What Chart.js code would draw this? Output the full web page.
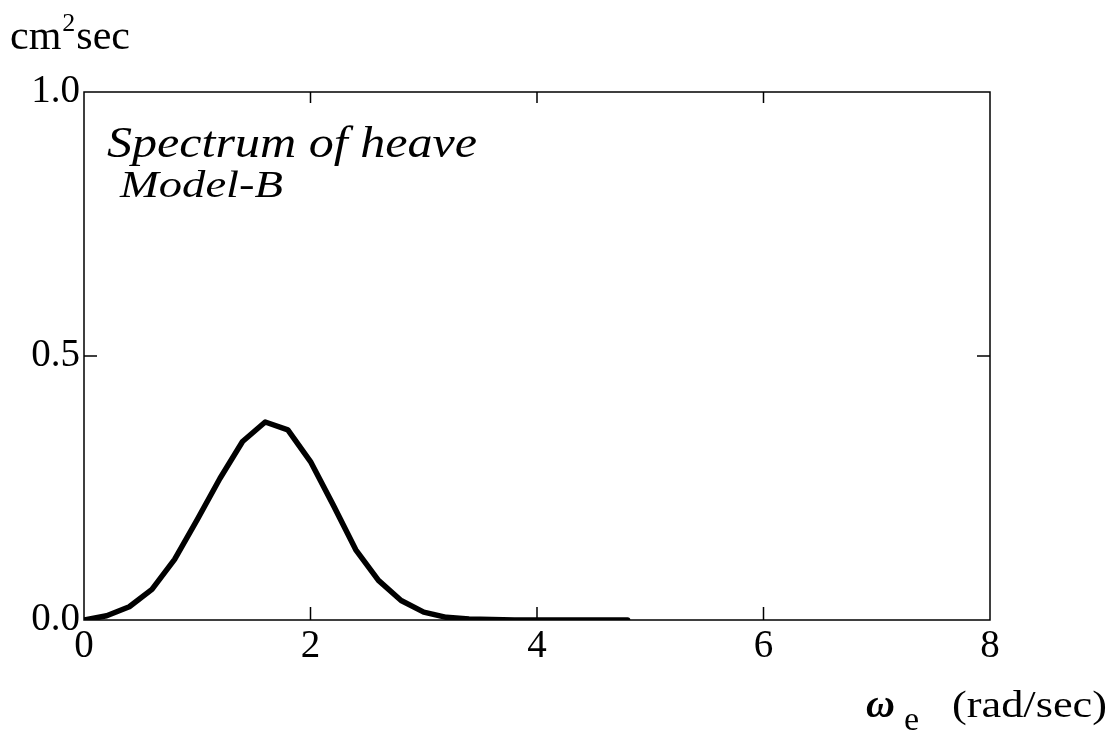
<!DOCTYPE html>
<html>
<head>
<meta charset="utf-8">
<script src="https://cdn.jsdelivr.net/npm/chart.js@4/dist/chart.umd.min.js"></script>
<style>
  html, body { margin: 0; padding: 0; background: #fff; }
  #wrap { width: 1116px; height: 746px; }
</style>
</head>
<body>
<div id="wrap"><canvas id="heaveChart" width="1116" height="746"></canvas></div>
<script>
// encounter frequency (rad/sec) and heave spectrum (cm^2 sec)
const omega = [0, 0.2, 0.4, 0.6, 0.8, 1.0, 1.2, 1.4, 1.6, 1.8, 2.0, 2.2, 2.4,
               2.6, 2.8, 3.0, 3.2, 3.4, 3.6, 3.8, 4.0, 4.2, 4.4, 4.6, 4.8];
const heave = [0, 0.008, 0.025, 0.058, 0.115, 0.19, 0.268, 0.338, 0.375, 0.36, 0.30, 0.218, 0.133,
               0.075, 0.037, 0.015, 0.005, 0.002, 0.001, 0, 0, 0, 0, 0, 0];
const xTicks = [0, 2, 4, 6, 8];
const yTicks = [0, 0.5, 1.0];

const SERIF = '"Liberation Serif", "Times New Roman", serif';

function fitText(ctx, text, x, y, width) {
    const w = ctx.measureText(text).width;
    ctx.save();
    ctx.translate(x, y);
    ctx.scale(width / w, 1);
    ctx.fillText(text, 0, 0);
    ctx.restore();
}

// box around the plot plus inward tick marks
const framePlugin = {
    id: 'frame',
    beforeDatasetsDraw(chart) {
        const { ctx, chartArea: a, scales } = chart;
        ctx.save();
        ctx.strokeStyle = '#000';
        ctx.lineWidth = 1.5;
        ctx.strokeRect(a.left, a.top, a.right - a.left, a.bottom - a.top);
        ctx.beginPath();
        xTicks.slice(1, -1).forEach(v => {
            const px = scales.x.getPixelForValue(v);
            ctx.moveTo(px, a.bottom);
            ctx.lineTo(px, a.bottom - 13);
            ctx.moveTo(px, a.top);
            ctx.lineTo(px, a.top + 11);
        });
        yTicks.slice(1, -1).forEach(v => {
            const py = scales.y.getPixelForValue(v);
            ctx.moveTo(a.left, py);
            ctx.lineTo(a.left + 13, py);
            ctx.moveTo(a.right, py);
            ctx.lineTo(a.right - 13, py);
        });
        ctx.stroke();
        ctx.restore();
    },
    afterDraw(chart) {
        const ctx = chart.ctx;
        ctx.save();
        ctx.fillStyle = '#000';
        ctx.textBaseline = 'alphabetic';
        ctx.textAlign = 'left';

        // unit of the spectrum
        ctx.font = '42px ' + SERIF;
        ctx.fillText('cm', 10, 49);
        const cmW = ctx.measureText('cm').width;
        ctx.font = '26px ' + SERIF;
        ctx.fillText('2', 10 + cmW + 1, 31);
        ctx.font = '42px ' + SERIF;
        ctx.fillText('sec', 10 + cmW + 15, 49);

        // caption inside the plot
        ctx.font = 'italic 44px ' + SERIF;
        fitText(ctx, 'Spectrum of heave', 107, 157, 370);
        ctx.font = 'italic 38px ' + SERIF;
        fitText(ctx, 'Model-B', 120, 197, 163);

        // x axis title
        ctx.font = 'bold italic 40px ' + SERIF;
        ctx.fillText('\u03c9', 866, 717);
        ctx.font = '34px ' + SERIF;
        ctx.fillText('e', 904, 730);
        ctx.font = '38px ' + SERIF;
        fitText(ctx, '(rad/sec)', 952, 717, 155);
        ctx.restore();
    }
};

new Chart(document.getElementById('heaveChart'), {
    type: 'line',
    data: {
        datasets: [{
            data: omega.map((w, i) => ({ x: w, y: heave[i] })),
            borderColor: '#000',
            borderWidth: 5.5,
            borderJoinStyle: 'round',
            borderCapStyle: 'round',
            pointRadius: 0,
            tension: 0,
            fill: false
        }]
    },
    options: {
        responsive: false,
        animation: false,
        layout: { padding: { left: 0, top: 92, right: 126, bottom: 0 } },
        plugins: { legend: { display: false }, tooltip: { enabled: false } },
        scales: {
            x: {
                type: 'linear',
                min: 0,
                max: 8,
                afterFit(scale) { scale.height = 126; },
                afterBuildTicks(scale) { scale.ticks = xTicks.map(v => ({ value: v })); },
                grid: { display: false, drawTicks: false },
                border: { display: false },
                ticks: {
                    color: '#000',
                    padding: 3,
                    font: { family: SERIF, size: 39 },
                    maxRotation: 0
                }
            },
            y: {
                type: 'linear',
                min: 0,
                max: 1,
                afterFit(scale) { scale.width = 84; },
                afterBuildTicks(scale) { scale.ticks = yTicks.map(v => ({ value: v })); },
                grid: { display: false, drawTicks: false },
                border: { display: false },
                ticks: {
                    color: '#000',
                    padding: 4,
                    font: { family: SERIF, size: 39 },
                    callback: v => v.toFixed(1)
                }
            }
        }
    },
    plugins: [framePlugin]
});
</script>
</body>
</html>
